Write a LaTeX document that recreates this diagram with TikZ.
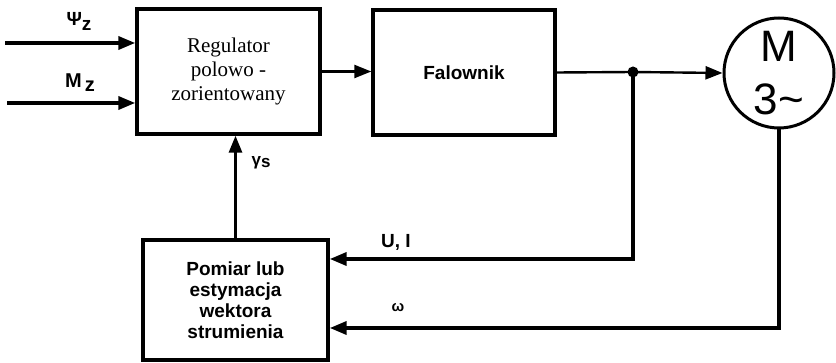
\documentclass[tikz,border=0pt]{standalone}
\usepackage{fontspec}
\setmainfont{Liberation Sans}
\newfontfamily\serifx{Liberation Serif}
\usetikzlibrary{arrows.meta}
\begin{document}
\begin{tikzpicture}[x=1pt,y=-1pt,
  blk/.style={draw,line width=3.4pt,inner sep=0pt,align=center},
  arr/.style={-{Triangle[length=17pt,width=13pt]},line width=3.6pt},
  arrthin/.style={-{Triangle[length=17pt,width=13pt]},line width=2.4pt},
  thinline/.style={line width=2.4pt},
  lbl/.style={inner sep=0pt,font=\bfseries\fontsize{19}{21}\selectfont}]
\useasboundingbox (0,0) rectangle (836,363);
% blocks
\node[blk,minimum width=183pt,minimum height=125pt,font=\serifx\fontsize{21}{24}\selectfont] (reg) at (228.5,71.5) {Regulator\\polowo -\\zorientowany};
\node[blk,minimum width=182pt,minimum height=125pt,font=\bfseries\fontsize{19}{22}\selectfont] (fal) at (464,72.5) {Falownik};
\node[blk,minimum width=185pt,minimum height=120pt,font=\bfseries\fontsize{19}{21}\selectfont] (pom) at (235.5,300) {Pomiar lub\\estymacja\\wektora\\strumienia};
\node[draw,circle,line width=3pt,minimum size=110pt,inner sep=0pt,align=center,font=\fontsize{44}{53}\selectfont] (mot) at (779,73) {M\\3\textasciitilde};
\node[circle,fill,minimum size=11pt,inner sep=0pt] (j) at (633,72) {};
% inputs
\coordinate (pin) at (5,43);
\coordinate (min) at (7,103);
\draw[arr] (pin) -- (pin -| reg.west);
\draw[arr] (min) -- (min -| reg.west);
\node[lbl] (psil) at (79,21) {Ψ\raisebox{-5pt}{z}};
\node[lbl,font=\bfseries\fontsize{20}{20}\selectfont] (mzl) at (80,83) {M\,\raisebox{-4pt}{z}};
% main path
\draw[arrthin] (reg.east) -- (reg.east -| fal.west);
\draw[thinline] (fal.east) -- (j.center);
\draw[arrthin] (j.center) -- (mot.west);
% feedback
\draw[arr,line width=3pt] (pom.north) -- (pom.north |- reg.south);
\node[lbl,font=\bfseries\fontsize{17}{17}\selectfont] (gl) at (261,163) {γ\raisebox{-2pt}{s}};
\coordinate (ui) at (633,259);
\draw[arr] (j.center) -- (ui) -- (ui -| pom.east);
\node[lbl] (uil) at (396,242) {U, I};
\coordinate (om) at (779,328);
\draw[arr] (mot.south) -- (om) -- (om -| pom.east);
\node[lbl,font=\bfseries\fontsize{15}{15}\selectfont] (oml) at (398,308) {ω};
\end{tikzpicture}
\end{document}
